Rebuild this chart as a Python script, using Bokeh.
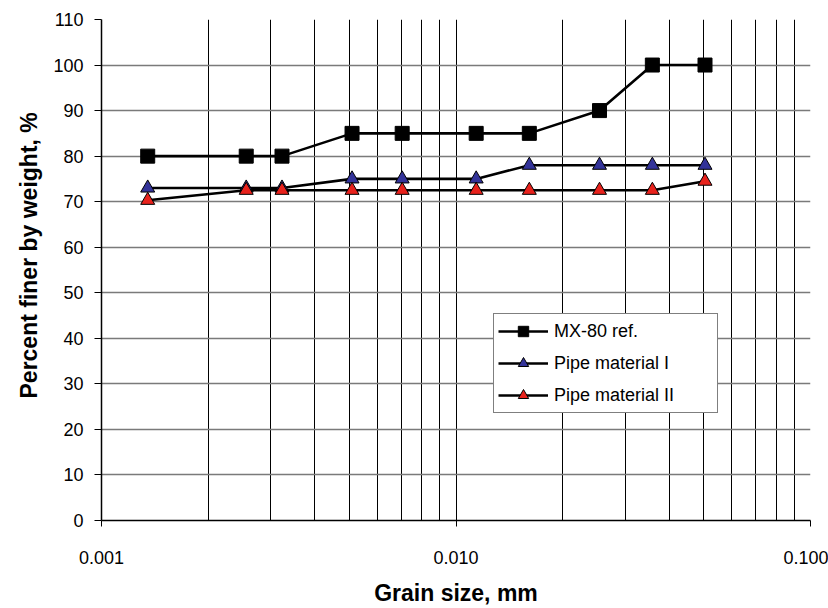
from bokeh.plotting import figure
from bokeh.models import (Range1d, FixedTicker, SingleIntervalTicker, CustomJSTickFormatter,
                          Legend, LegendItem, Title)
from bokeh.embed import file_html
from bokeh.resources import INLINE

# Grain size distribution (hydrometer analysis)
grain_size_mm = [0.00135, 0.00256, 0.00323, 0.00509, 0.00705, 0.0114, 0.0161, 0.0254, 0.0358, 0.0504]
mx80_ref = [80, 80, 80, 85, 85, 85, 85, 90, 100, 100]
pipe_material_1 = [73, 73, 73, 75, 75, 75, 78, 78, 78, 78]
pipe_material_2 = [70.3, 72.5, 72.5, 72.5, 72.5, 72.5, 72.5, 72.5, 72.5, 74.5]

x_major_ticks = [0.001, 0.01, 0.1]
series_names = ["MX-80 ref.", "Pipe material I", "Pipe material II"]

FONT = "Liberation Sans"

p = figure(width=828, height=608, x_axis_type="log",
           x_range=Range1d(0.001, 0.1), y_range=Range1d(0, 110),
           output_backend="svg", toolbar_location=None,
           min_border_left=101, min_border_right=18,
           min_border_top=19, min_border_bottom=87)
p.outline_line_color = None
p.background_fill_color = "white"
p.border_fill_color = "white"

# vertical grid: every 1..9 step of each decade
decade_lines = [k * 10.0 ** e for e in (-3, -2) for k in range(1, 10)] + [0.1]
p.xgrid.ticker = FixedTicker(ticks=decade_lines)
p.xgrid.grid_line_color = "black"
p.xgrid.grid_line_width = 1
p.ygrid.grid_line_color = "#7a7a7a"
p.ygrid.grid_line_width = 1.5

# x axis
xa = p.xaxis[0]
xa.ticker = FixedTicker(ticks=x_major_ticks, minor_ticks=[])
xa.formatter = CustomJSTickFormatter(code="return tick.toFixed(3);")
xa.axis_label = "Grain size, mm"
xa.major_tick_in = 0
xa.major_tick_out = 6
xa.minor_tick_line_color = None
xa.major_label_standoff = 24
xa.axis_label_standoff = 13

# y axis
ya = p.yaxis[0]
ya.ticker = SingleIntervalTicker(interval=10, num_minor_ticks=0)
ya.major_tick_in = 0
ya.major_tick_out = 7
ya.minor_tick_line_color = None
ya.major_label_standoff = 11

for ax in (xa, ya):
    ax.axis_line_color = "black"
    ax.axis_line_width = 1.5
    ax.major_tick_line_color = "black"
    ax.major_tick_line_width = 1
    ax.major_label_text_font = FONT
    ax.major_label_text_font_size = "18px"
    ax.major_label_text_color = "black"
    ax.axis_label_text_font = FONT
    ax.axis_label_text_font_size = "23px"
    ax.axis_label_text_font_style = "bold"
    ax.axis_label_text_color = "black"

# y axis title, starting a little above the frame's bottom
ytitle = Title(text="Percent finer by weight, %", align="left", offset=122,
               text_font=FONT, text_font_size="23px", text_font_style="bold",
               text_color="black", standoff=18)
p.add_layout(ytitle, "left")

# series
l1 = p.line(grain_size_mm, mx80_ref, line_color="black", line_width=2.6)
s1 = p.scatter(grain_size_mm, mx80_ref, marker="square", size=14,
               fill_color="black", line_color="black")
l2 = p.line(grain_size_mm, pipe_material_1, line_color="black", line_width=2.6)
s2 = p.scatter(grain_size_mm, pipe_material_1, marker="triangle", size=14,
               fill_color="#333399", line_color="black", line_width=1)
l3 = p.line(grain_size_mm, pipe_material_2, line_color="black", line_width=2.6)
s3 = p.scatter(grain_size_mm, pipe_material_2, marker="triangle", size=14,
               fill_color="#E8221C", line_color="black", line_width=1)

legend = Legend(items=[LegendItem(label=series_names[0], renderers=[l1, s1]),
                       LegendItem(label=series_names[1], renderers=[l2, s2]),
                       LegendItem(label=series_names[2], renderers=[l3, s3])],
                location=(392, 107))
legend.border_line_color = "black"
legend.border_line_width = 1
legend.background_fill_color = "white"
legend.background_fill_alpha = 1
legend.label_text_font = FONT
legend.label_text_font_size = "18px"
legend.label_text_color = "black"
legend.glyph_width = 50
legend.glyph_height = 26
legend.label_height = 26
legend.label_width = 159
legend.label_standoff = 6
legend.spacing = 6
legend.padding = 4
legend.margin = 0
p.add_layout(legend)

open("out.html", "w").write(file_html(p, INLINE))
